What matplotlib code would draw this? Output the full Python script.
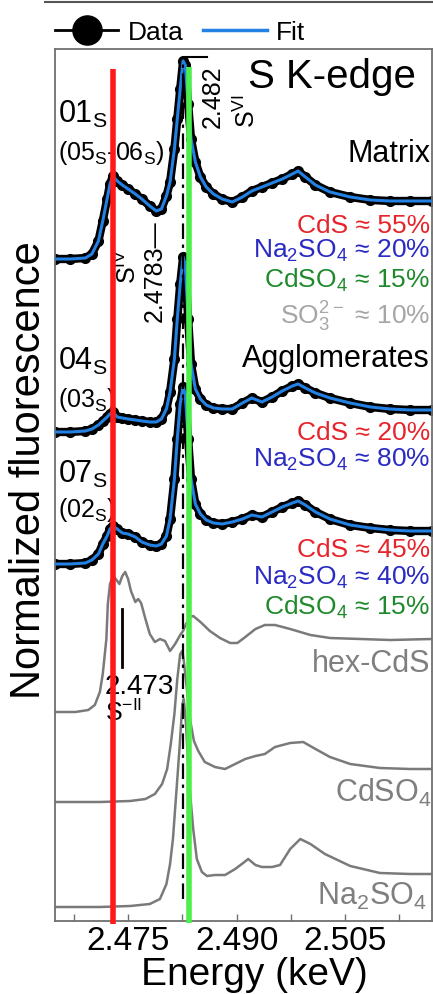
import matplotlib
matplotlib.use('Agg')
import matplotlib.pyplot as plt
from matplotlib.lines import Line2D

plt.rcParams['font.family'] = ['Liberation Sans', 'DejaVu Sans']
plt.rcParams['mathtext.default'] = 'regular'

# energy grid of the three sample scans (keV)
e_samp = [2.4649, 2.4670, 2.4691, 2.4700, 2.4709, 2.4715, 2.4721, 2.4725, 2.4729, 2.4735,
          2.4742, 2.4750, 2.4760, 2.4769, 2.4780, 2.4789, 2.4796, 2.4803, 2.4808, 2.4814,
          2.4818, 2.4822, 2.4826, 2.4829, 2.4833, 2.4837, 2.4843, 2.4850, 2.4858, 2.4868,
          2.4880, 2.4894, 2.4908, 2.4921, 2.4935, 2.4949, 2.4963, 2.4977, 2.4985, 2.4995,
          2.5009, 2.5029, 2.5057, 2.5085, 2.5112, 2.5140, 2.5170]

# stacked, offset intensities
s01 = [6.62, 6.62, 6.63, 6.67, 6.80, 7.00, 7.22, 7.37, 7.45, 7.40,
       7.36, 7.32, 7.27, 7.22, 7.15, 7.10, 7.12, 7.25, 7.39, 7.72,
       8.02, 8.32, 8.60, 8.56, 8.17, 7.82, 7.59, 7.44, 7.34, 7.27,
       7.22, 7.19, 7.24, 7.30, 7.34, 7.38, 7.42, 7.47, 7.50, 7.44,
       7.36, 7.29, 7.24, 7.21, 7.20, 7.20, 7.20]
s04 = [4.89, 4.89, 4.90, 4.92, 4.96, 5.00, 5.04, 5.07, 5.09, 5.04,
       5.03, 5.02, 5.01, 5.00, 4.99, 4.99, 5.02, 5.12, 5.29, 5.62,
       6.02, 6.37, 6.64, 6.57, 6.02, 5.57, 5.32, 5.22, 5.16, 5.13,
       5.12, 5.12, 5.18, 5.23, 5.19, 5.24, 5.30, 5.35, 5.37, 5.33,
       5.28, 5.23, 5.18, 5.14, 5.12, 5.11, 5.11]
s07 = [3.57, 3.57, 3.58, 3.61, 3.67, 3.77, 3.85, 3.92, 3.95, 3.92,
       3.88, 3.87, 3.84, 3.79, 3.76, 3.75, 3.77, 3.85, 4.02, 4.42,
       4.82, 5.17, 5.34, 5.27, 4.82, 4.42, 4.17, 4.07, 4.01, 3.98,
       3.97, 3.99, 4.02, 4.06, 4.04, 4.09, 4.14, 4.18, 4.20, 4.16,
       4.09, 4.02, 3.96, 3.93, 3.91, 3.90, 3.90]

# reference compounds
e_cds = [2.4649, 2.4677, 2.4695, 2.4704, 2.4711, 2.4715, 2.4720, 2.4722, 2.4725, 2.4729,
         2.4733, 2.4738, 2.4742, 2.4746, 2.4750, 2.4754, 2.4760, 2.4764, 2.4768, 2.4774,
         2.4780, 2.4787, 2.4794, 2.4801, 2.4808, 2.4815, 2.4822, 2.4826, 2.4830, 2.4836,
         2.4840, 2.4850, 2.4863, 2.4877, 2.4891, 2.4901, 2.4912, 2.4926, 2.4939, 2.4953,
         2.4974, 2.5002, 2.5029, 2.5071, 2.5112, 2.5170]
hex_cds = [2.09, 2.09, 2.11, 2.16, 2.29, 2.47, 2.82, 3.17, 3.37, 3.45,
           3.42, 3.37, 3.45, 3.49, 3.42, 3.30, 3.19, 3.22, 3.18, 3.02,
           2.87, 2.79, 2.82, 2.80, 2.70, 2.77, 2.86, 2.90, 2.97, 3.04,
           3.05, 2.99, 2.90, 2.83, 2.78, 2.78, 2.84, 2.92, 2.96, 2.96,
           2.92, 2.86, 2.83, 2.82, 2.81, 2.82]

e_cdso4 = [2.4649, 2.4711, 2.4753, 2.4774, 2.4787, 2.4797, 2.4804, 2.4809, 2.4814, 2.4818,
           2.4822, 2.4825, 2.4827, 2.4832, 2.4836, 2.4841, 2.4847, 2.4856, 2.4870, 2.4884,
           2.4898, 2.4912, 2.4926, 2.4939, 2.4953, 2.4974, 2.4992, 2.5009, 2.5029, 2.5057,
           2.5098, 2.5140, 2.5170]
cdso4 = [1.19, 1.19, 1.20, 1.22, 1.27, 1.37, 1.52, 1.77, 2.07, 2.42,
         2.67, 2.70, 2.60, 2.27, 2.00, 1.80, 1.70, 1.59, 1.54, 1.52,
         1.57, 1.62, 1.65, 1.67, 1.74, 1.78, 1.79, 1.72, 1.64, 1.57,
         1.53, 1.52, 1.52]

e_na2so4 = [2.4649, 2.4711, 2.4753, 2.4780, 2.4794, 2.4803, 2.4808, 2.4812, 2.4816, 2.4821,
            2.4825, 2.4827, 2.4830, 2.4834, 2.4840, 2.4845, 2.4852, 2.4859, 2.4870, 2.4884,
            2.4898, 2.4909, 2.4916, 2.4926, 2.4935, 2.4949, 2.4960, 2.4974, 2.4988, 2.5002,
            2.5022, 2.5057, 2.5098, 2.5140, 2.5170]
na2so4 = [0.14, 0.14, 0.15, 0.17, 0.22, 0.37, 0.57, 0.82, 1.22, 1.72,
          2.17, 2.22, 1.97, 1.42, 0.92, 0.62, 0.49, 0.45, 0.46, 0.46,
          0.52, 0.58, 0.62, 0.56, 0.54, 0.54, 0.56, 0.72, 0.82, 0.77,
          0.67, 0.55, 0.48, 0.47, 0.47]

# marked energies
e_red = 2.4729
e_green = 2.4834
e_svi = 2.4826
e_sii = 2.4742

red = '#e6242b'
blue = '#2a2ac4'
green = '#1f8a2c'
fit_blue = '#2281e3'
ref_gray = '#7a7a7a'

fig = plt.figure(figsize=(4.33, 9.95), dpi=100)
ax = fig.add_axes([55/433, 73/995, 377/433, 872/995])
ax.set_xlim(2.4649, 2.5170)
ax.set_ylim(0, 8.72)


def ftxt(px, py, s, **kw):
    # place text by pixel position in the figure
    ax.text(px/433, 1 - py/995, s, transform=fig.transFigure, clip_on=False, **kw)


# sample spectra: data dots + fit
for y in [s01, s04, s07]:
    ax.plot(e_samp, y, color='black', lw=6, marker='o', ms=7, zorder=2)
    ax.plot(e_samp, y, color=fit_blue, lw=2.2, zorder=3)

# references
ax.plot(e_cds, hex_cds, color=ref_gray, lw=1.8)
ax.plot(e_cdso4, cdso4, color=ref_gray, lw=1.8)
ax.plot(e_na2so4, na2so4, color=ref_gray, lw=1.8)

# marker lines
ax.plot([e_svi, e_svi], [0.22, 8.57], color='black', lw=1.6, ls=(0, (7, 2.5, 1.5, 2.5)), zorder=4)
ax.plot([2.4829, 2.4859], [8.64, 8.64], color='black', lw=1.5, zorder=4)
ax.plot([e_sii, e_sii], [2.54, 3.12], color='black', lw=2)
ax.plot([e_red, e_red], [-0.03, 8.52], color='#ff1a1a', lw=4, zorder=10, clip_on=False, solid_capstyle='butt')
ax.plot([e_green, e_green], [-0.02, 8.54], color='#4cef4c', lw=4, zorder=10, clip_on=False, solid_capstyle='butt')

# legend above the frame
h_data = Line2D([], [], color='black', lw=2, marker='o', ms=21)
h_fit = Line2D([], [], color=fit_blue, lw=2.5)
ax.legend([h_data, h_fit], ['Data', 'Fit'], loc='center left', bbox_to_anchor=(0, (922 - 33)/872),
          ncol=2, frameon=False, fontsize=19, handlelength=2.4, handletextpad=0.35,
          columnspacing=0.75, borderpad=0, borderaxespad=0)

# axes styling
for sp in ax.spines.values():
    sp.set_color('#707070')
    sp.set_linewidth(1.3)
ax.set_yticks([])
ax.set_xticks([2.475, 2.490, 2.505])
ax.set_xticklabels(['2.475', '2.490', '2.505'])
ax.set_xticks([2.4675, 2.4825, 2.4975, 2.5125], minor=True)
ax.tick_params(axis='x', which='both', direction='in', length=5, width=1, color='#707070',
               labelsize=24, pad=3)
ax.set_xlabel('Energy (keV)', fontsize=28)
ax.xaxis.set_label_coords((254 - 55)/377, (922 - 957)/872)
ftxt(29, 470, 'Normalized fluorescence', fontsize=30, rotation=90, ha='center', va='center')

fig.add_artist(Line2D([45/433, 1], [1 - 3/995, 1 - 3/995], color='#555555', lw=1.5))

# labels
ftxt(248, 88, 'S K-edge', fontsize=29)
ftxt(58, 123, '01$_S$', fontsize=22)
ftxt(58, 160, '(05$_S$-06$_S$)', fontsize=18)
ftxt(430, 162, 'Matrix', fontsize=22, ha='right')
ftxt(430, 233, 'CdS ≈ 55%', fontsize=19, color=red, ha='right')
ftxt(430, 258, 'Na$_2$SO$_4$ ≈ 20%', fontsize=19, color=blue, ha='right')
ftxt(430, 288, 'CdSO$_4$ ≈ 15%', fontsize=19, color=green, ha='right')
ftxt(430, 325, 'SO$_3^{2-}$ ≈ 10%', fontsize=19, color='#a6a6a6', ha='right')

ftxt(58, 370, '04$_S$', fontsize=22)
ftxt(58, 407, '(03$_S$)', fontsize=18)
ftxt(430, 367, 'Agglomerates', fontsize=22, ha='right')
ftxt(430, 440, 'CdS ≈ 20%', fontsize=19, color=red, ha='right')
ftxt(430, 467, 'Na$_2$SO$_4$ ≈ 80%', fontsize=19, color=blue, ha='right')

ftxt(58, 483, '07$_S$', fontsize=22)
ftxt(58, 517, '(02$_S$)', fontsize=18)
ftxt(430, 557, 'CdS ≈ 45%', fontsize=19, color=red, ha='right')
ftxt(430, 585, 'Na$_2$SO$_4$ ≈ 40%', fontsize=19, color=blue, ha='right')
ftxt(430, 615, 'CdSO$_4$ ≈ 15%', fontsize=19, color=green, ha='right')

ftxt(430, 672, 'hex-CdS', fontsize=22, color='#7f7f7f', ha='right')
ftxt(432, 802, 'CdSO$_4$', fontsize=22, color='#7f7f7f', ha='right')
ftxt(427, 905, 'Na$_2$SO$_4$', fontsize=22, color='#7f7f7f', ha='right')

# energy annotations
ftxt(105, 694, '2.473', fontsize=20)
ftxt(105, 721, 'S$^{-II}$', fontsize=18)
ftxt(213, 128, '2.482', fontsize=18, rotation=90, ha='center', va='bottom')
ftxt(247, 128, 'S$^{VI}$', fontsize=18, rotation=90, ha='center', va='bottom')
ftxt(155, 322, '2.4783—', fontsize=18, rotation=90, ha='center', va='bottom')
ftxt(128, 284, 'S$^{IV}$', fontsize=18, rotation=90, ha='center', va='bottom')

fig.savefig('out.png', dpi=100)
